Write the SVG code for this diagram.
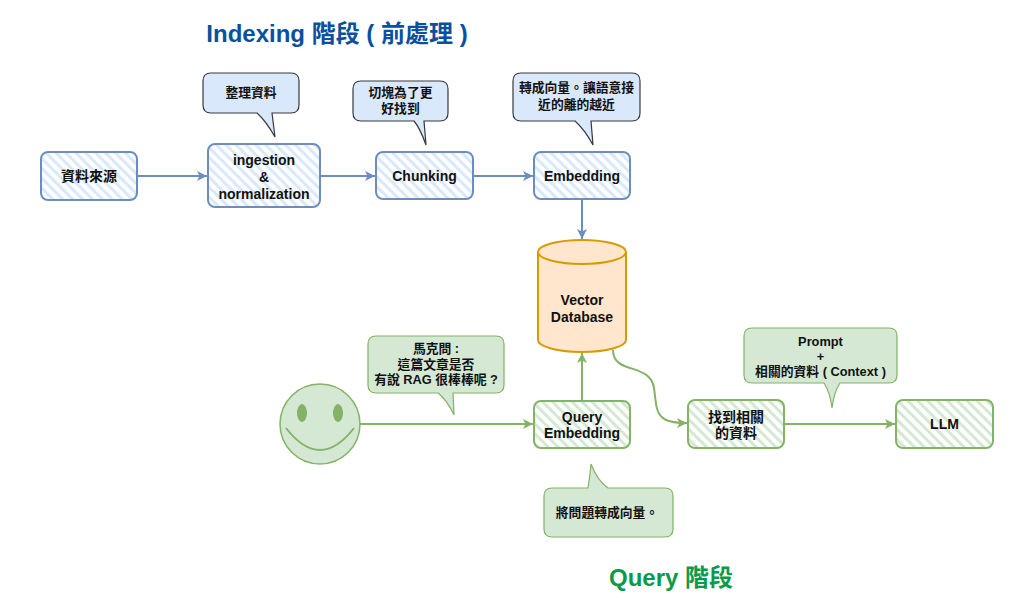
<svg xmlns="http://www.w3.org/2000/svg" width="1024" height="608" viewBox="0 0 1024 608">
<style>
text{font-family:"Liberation Sans","Noto Sans CJK TC",sans-serif;font-weight:bold;text-anchor:middle;fill:#111}
.n{font-size:14px}
.c{font-size:12.8px}
.bnode{fill:url(#hb);stroke:#6c8ebf;stroke-width:2}
.gnode{fill:url(#hg);stroke:#82b366;stroke-width:2}
.bcall{fill:#dae8fc;stroke:#36393d;stroke-width:1.2}
.gcall{fill:#d5e8d4;stroke:#82b366;stroke-width:1.2}
.be{fill:none;stroke:#6c8ebf;stroke-width:2}
.ge{fill:none;stroke:#82b366;stroke-width:2}
</style>
<defs>
<pattern id="hb" width="7" height="7" patternUnits="userSpaceOnUse" patternTransform="rotate(-45)">
<rect width="7" height="7" fill="#fff"/><rect width="3" height="7" fill="#dae8fc"/>
</pattern>
<pattern id="hg" width="7" height="7" patternUnits="userSpaceOnUse" patternTransform="rotate(-45)">
<rect width="7" height="7" fill="#fff"/><rect width="3" height="7" fill="#d5e8d4"/>
</pattern>
<marker id="ab" viewBox="0 0 10 10" refX="10" refY="5" markerWidth="10" markerHeight="10" markerUnits="userSpaceOnUse" orient="auto">
<path d="M0,0 L10,5 L0,10 L2.5,5 Z" fill="#6c8ebf"/>
</marker>
<marker id="ag" viewBox="0 0 10 10" refX="10" refY="5" markerWidth="10" markerHeight="10" markerUnits="userSpaceOnUse" orient="auto">
<path d="M0,0 L10,5 L0,10 L2.5,5 Z" fill="#82b366"/>
</marker>
</defs>
<rect width="1024" height="608" fill="#fff"/>

<text x="337" y="42" style="font-size:24px;fill:#0b4f9f">Indexing 階段 ( 前處理 )</text>
<text x="671" y="586" style="font-size:24px;fill:#0a9a48">Query 階段</text>

<g id="connectors">
<line x1="137" y1="176" x2="207" y2="176" class="be" marker-end="url(#ab)"/>
<line x1="320" y1="176" x2="375" y2="176" class="be" marker-end="url(#ab)"/>
<line x1="473" y1="176" x2="533" y2="176" class="be" marker-end="url(#ab)"/>
<line x1="582" y1="199" x2="582" y2="239" class="be" marker-end="url(#ab)"/>
<line x1="360" y1="424" x2="533" y2="424" class="ge" marker-end="url(#ag)"/>
<line x1="582" y1="401" x2="582" y2="353" class="ge" marker-end="url(#ag)"/>
<path d="M613,350 C613,375 650,362 654,388 L656,404 C658,420 668,423 687,423" class="ge" marker-end="url(#ag)"/>
<line x1="784" y1="424" x2="895" y2="424" class="ge" marker-end="url(#ag)"/>
</g>

<g id="n-source">
<rect x="41" y="152" width="96" height="48" rx="7" class="bnode"/>
<text x="89" y="181" class="n">資料來源</text>
</g>
<g id="n-ingestion">
<rect x="208" y="144" width="112" height="63" rx="7" class="bnode"/>
<text x="264" y="165" class="n">ingestion</text>
<text x="264" y="182" class="n">&amp;</text>
<text x="264" y="199" class="n">normalization</text>
</g>
<g id="n-chunking">
<rect x="376" y="152" width="97" height="47" rx="7" class="bnode"/>
<text x="424.5" y="181" class="n">Chunking</text>
</g>
<g id="n-embedding">
<rect x="534" y="152" width="96" height="47" rx="7" class="bnode"/>
<text x="582" y="181" class="n">Embedding</text>
</g>
<g id="n-vectordb">
<path d="M538,252 A44,12 0 0 1 626,252 V340 A44,12 0 0 1 538,340 Z" fill="#ffe6cc" stroke="#d79b00" stroke-width="2"/>
<path d="M538,252 A44,12 0 0 0 626,252" fill="none" stroke="#d79b00" stroke-width="2"/>
<text x="582" y="305" class="n">Vector</text>
<text x="582" y="322" class="n">Database</text>
</g>
<g id="n-user">
<circle cx="320" cy="424" r="40" fill="#d5e8d4" stroke="#82b366" stroke-width="1.5"/>
<ellipse cx="302" cy="413" rx="5" ry="9" fill="#82b366"/>
<ellipse cx="338" cy="413" rx="5" ry="9" fill="#82b366"/>
<path d="M286,428 Q320,472 354,428" fill="none" stroke="#82b366" stroke-width="2"/>
</g>
<g id="n-queryemb">
<rect x="534" y="401" width="96" height="47" rx="7" class="gnode"/>
<text x="582" y="422" class="n">Query</text>
<text x="582" y="438" class="n">Embedding</text>
</g>
<g id="n-found">
<rect x="688" y="400" width="96" height="48" rx="7" class="gnode"/>
<text x="736" y="422" class="n">找到相關</text>
<text x="736" y="438" class="n">的資料</text>
</g>
<g id="n-llm">
<rect x="896" y="400" width="97" height="48" rx="7" class="gnode"/>
<text x="944.5" y="429" class="n">LLM</text>
</g>

<g id="c-normalize">
<path d="M211,73 H291 Q299,73 299,81 V105 Q299,113 291,113 H272 L275,137 Q266,121 257,113 H211 Q203,113 203,105 V81 Q203,73 211,73 Z" class="bcall"/>
<text x="251" y="97" class="c">整理資料</text>
</g>
<g id="c-chunk">
<path d="M361,81 H440 Q448,81 448,89 V113 Q448,121 440,121 H424 L426,145 Q420,128 414,121 H361 Q353,121 353,113 V89 Q353,81 361,81 Z" class="bcall"/>
<text x="400.5" y="97" class="c">切塊為了更</text>
<text x="400.5" y="113" class="c">好找到</text>
</g>
<g id="c-embed">
<path d="M521,73 H632 Q640,73 640,81 V113 Q640,121 632,121 H591 L593,145 Q585,130 575,121 H521 Q513,121 513,113 V81 Q513,73 521,73 Z" class="bcall"/>
<text x="576.5" y="92" class="c">轉成向量。讓語意接</text>
<text x="576.5" y="109" class="c">近的離的越近</text>
</g>
<g id="c-question">
<path d="M376,336 H496 Q504,336 504,344 V385 Q504,393 496,393 H453 L454,415 Q447,400 438,393 H376 Q368,393 368,385 V344 Q368,336 376,336 Z" class="gcall"/>
<text x="436" y="353" class="c">馬克問 :</text>
<text x="436" y="369" class="c">這篇文章是否</text>
<text x="436" y="384" class="c">有說 RAG 很棒棒呢 ?</text>
</g>
<g id="c-prompt">
<path d="M752,328 H889 Q897,328 897,336 V375 Q897,383 889,383 H840 Q834,392 832,408 Q830,392 824,383 H752 Q744,383 744,375 V336 Q744,328 752,328 Z" class="gcall"/>
<text x="820.5" y="346" class="c">Prompt</text>
<text x="820.5" y="361" class="c">+</text>
<text x="820.5" y="376" class="c">相關的資料 ( Context )</text>
</g>
<g id="c-vector">
<path d="M552,488 H588 Q590,476 591,464 Q597,480 608,488 H665 Q673,488 673,496 V529 Q673,537 665,537 H552 Q544,537 544,529 V496 Q544,488 552,488 Z" class="gcall"/>
<text x="607" y="517" class="c">將問題轉成向量。</text>
</g>
</svg>
